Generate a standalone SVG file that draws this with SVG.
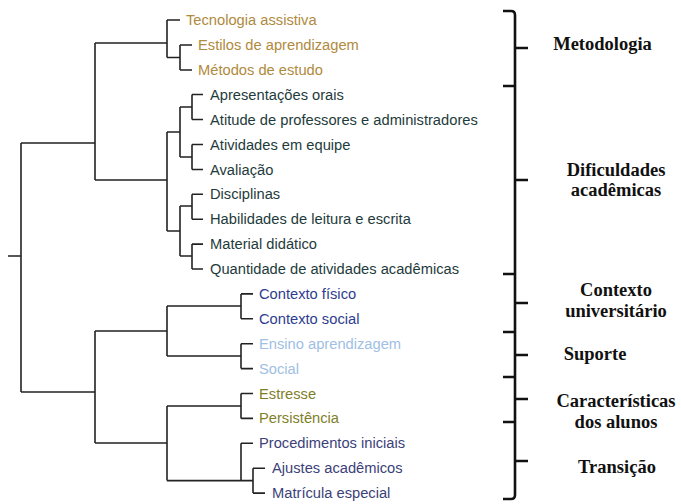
<svg xmlns="http://www.w3.org/2000/svg" width="681" height="504" viewBox="0 0 681 504">
<style>
.t{font-family:"Liberation Sans",Arial,sans-serif;font-size:14.7px}
.c1{fill:#B08A3E}.c2{fill:#1E3B3B}.c3{fill:#2E3D8F}.c4{fill:#9FC0E3}.c5{fill:#7F7F2A}.c6{fill:#3C3F78}
.ln{fill:none;stroke:#222;stroke-width:1.6}
.br{fill:none;stroke:#111;stroke-width:2.6}
.lb{font-family:"Liberation Serif","Times New Roman",serif;font-size:18.5px;font-weight:bold;fill:#111;text-anchor:middle}
</style>
<rect width="681" height="504" fill="#fff"/>
<g id="connectors" class="ln">
<path d="M8 256H21M21 143V392M21 143H95M21 392H95"/>
<path d="M95 43V180M95 43H167M95 180H167"/>
<path d="M167 20V57.5M167 20H180M167 57.5H180M180 45V70M180 45H192M180 70H192"/>
<path d="M167 132V231M167 132H180M167 231H180"/>
<path d="M180 107V157M180 107H192M180 157H192"/>
<path d="M192 94.5V119.5M192 94.5H203M192 119.5H203M192 144.5V169.5M192 144.5H203M192 169.5H203"/>
<path d="M180 206V256M180 206H192M180 256H192"/>
<path d="M192 194.3V219.2M192 194.3H203M192 219.2H203M192 244.1V269M192 244.1H203M192 269H203"/>
<path d="M95 331V443M95 331H167M95 443H167"/>
<path d="M167 306V356M167 306H241M167 356H241"/>
<path d="M241 293.9V318.8M241 293.9H253M241 318.8H253M241 343.7V368.6M241 343.7H253M241 368.6H253"/>
<path d="M167 406V480.6M167 406H241M167 480.6H241"/>
<path d="M241 393.5V418.4M241 393.5H253M241 418.4H253"/>
<path d="M241 443.3V480.6M241 443.3H253M241 480.6H253M253 468.2V493.1M253 468.2H265M253 493.1H265"/>
</g>
<g id="leaves" class="t">
<text id="n1" class="c1" x="186" y="25">Tecnologia assistiva</text>
<text id="n2" class="c1" x="198" y="50">Estilos de aprendizagem</text>
<text id="n3" class="c1" x="198" y="75">Métodos de estudo</text>
<text id="n4" class="c2" x="210" y="99.5">Apresentações orais</text>
<text id="n5" class="c2" x="210" y="124.5">Atitude de professores e administradores</text>
<text id="n6" class="c2" x="210" y="149.5">Atividades em equipe</text>
<text id="n7" class="c2" x="210" y="174.5">Avaliação</text>
<text id="n8" class="c2" x="210" y="199.3">Disciplinas</text>
<text id="n9" class="c2" x="210" y="224.2">Habilidades de leitura e escrita</text>
<text id="n10" class="c2" x="210" y="249.1">Material didático</text>
<text id="n11" class="c2" x="210" y="274">Quantidade de atividades acadêmicas</text>
<text id="n12" class="c3" x="259" y="298.9">Contexto físico</text>
<text id="n13" class="c3" x="259" y="323.8">Contexto social</text>
<text id="n14" class="c4" x="259" y="348.7">Ensino aprendizagem</text>
<text id="n15" class="c4" x="259" y="373.6">Social</text>
<text id="n16" class="c5" x="259" y="398.5">Estresse</text>
<text id="n17" class="c5" x="259" y="423.4">Persistência</text>
<text id="n18" class="c6" x="259" y="448.3">Procedimentos iniciais</text>
<text id="n19" class="c6" x="272" y="473.2">Ajustes acadêmicos</text>
<text id="n20" class="c6" x="272" y="498.1">Matrícula especial</text>
</g>
<g id="braces" class="br">
<path d="M503 11H511Q515 11 515 15V495Q515 499 511 499H503"/>
<path d="M503 86H515M503 274H515M503 332H515M503 377H515M503 422H515"/>
<path d="M515 48H528M515 180H528M515 303H528M515 355H528M515 399H528M515 461H528"/>
</g>
<g id="groups">
<text id="g1" class="lb" x="602.5" y="49.5">Metodologia</text>
<text id="g2" class="lb" x="616" y="175.5">Dificuldades<tspan x="616" y="196">acadêmicas</tspan></text>
<text id="g3" class="lb" x="616" y="296">Contexto<tspan x="616" y="316.5">universitário</tspan></text>
<text id="g4" class="lb" x="595" y="360">Suporte</text>
<text id="g5" class="lb" x="616" y="406.5">Características<tspan x="616" y="428">dos alunos</tspan></text>
<text id="g6" class="lb" x="617" y="472.5">Transição</text>
</g>
</svg>
